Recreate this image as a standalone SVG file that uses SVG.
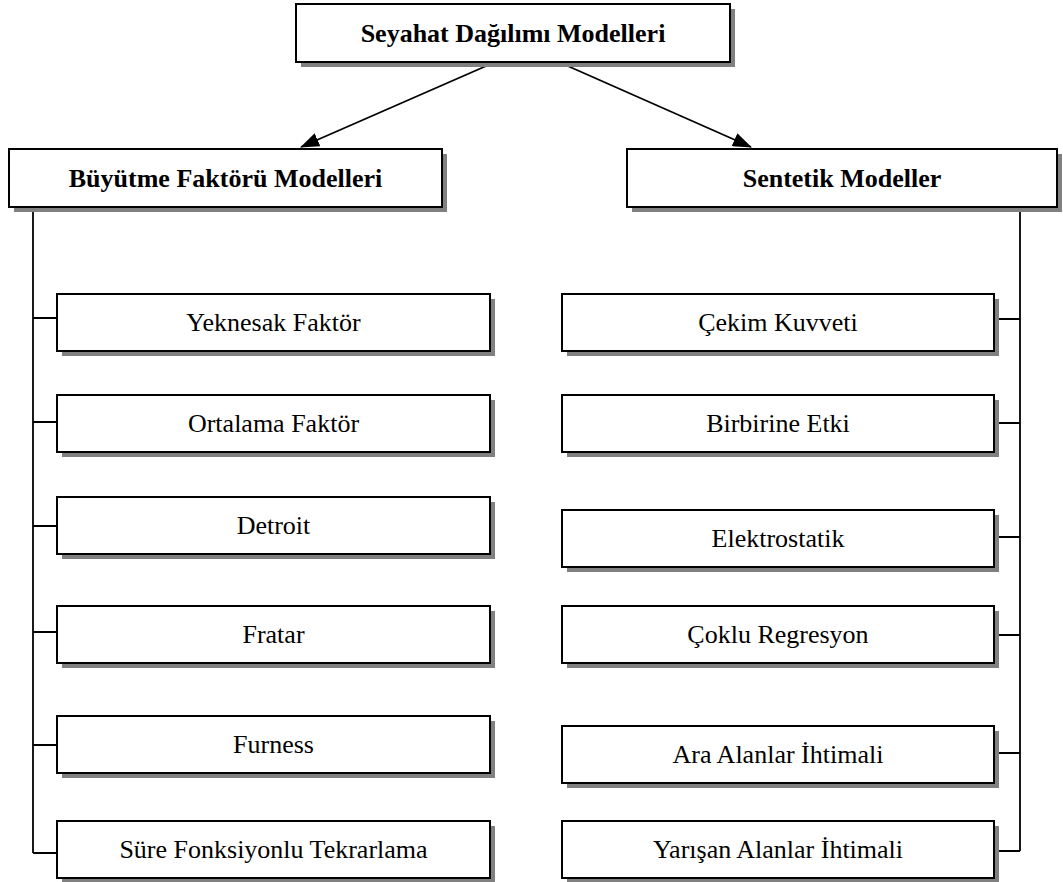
<svg xmlns="http://www.w3.org/2000/svg" width="1063" height="882" viewBox="0 0 1063 882">
<style>
.shadow{fill:#808080;stroke:none}
.box{fill:#fff;stroke:#000;stroke-width:2}
.t{font-family:"Liberation Serif","Times New Roman",serif;font-size:26px;fill:#000;text-anchor:middle}
.b{font-weight:bold}
.conn{fill:none;stroke:#000;stroke-width:1.8}
</style>
<defs>
<marker id="arr" markerWidth="19" markerHeight="14" refX="18" refY="7" orient="auto" markerUnits="userSpaceOnUse">
<path d="M0,0 L19,7 L0,14 Z" fill="#000"/>
</marker>
</defs>
<rect width="1063" height="882" fill="#fff"/>
<g id="connectors">
<line class="conn" x1="493" y1="63" x2="301" y2="147" marker-end="url(#arr)"/>
<line class="conn" x1="561" y1="63" x2="751" y2="147" marker-end="url(#arr)"/>
<path class="conn" d="M33,206 V853"/>
<path class="conn" d="M33,318 H57 M33,422 H57 M33,526 H57 M33,632 H57 M33,745 H57 M33,853 H57"/>
<path class="conn" d="M1020,203 V851"/>
<path class="conn" d="M994,319 H1020 M994,423 H1020 M994,537 H1020 M994,635 H1020 M994,753 H1020 M994,851 H1020"/>
</g>
<g id="root">
<rect class="shadow" x="301" y="9" width="434" height="58"/>
<rect class="box" x="296" y="4" width="434" height="58"/>
<text class="t b" x="513" y="42">Seyahat Dağılımı Modelleri</text>
</g>
<g id="buyutme">
<rect class="shadow" x="14" y="154" width="433" height="58"/>
<rect class="box" x="9" y="149" width="433" height="58"/>
<text class="t b" x="225.5" y="187">Büyütme Faktörü Modelleri</text>
</g>
<g id="sentetik">
<rect class="shadow" x="632" y="154" width="430" height="58"/>
<rect class="box" x="627" y="149" width="430" height="58"/>
<text class="t b" x="842" y="187">Sentetik Modeller</text>
</g>
<g id="yeknesak">
<rect class="shadow" x="62" y="299" width="433" height="57"/>
<rect class="box" x="57" y="294" width="433" height="57"/>
<text class="t" x="273.5" y="331">Yeknesak Faktör</text>
</g>
<g id="ortalama">
<rect class="shadow" x="62" y="400" width="433" height="57"/>
<rect class="box" x="57" y="395" width="433" height="57"/>
<text class="t" x="273.5" y="432">Ortalama Faktör</text>
</g>
<g id="detroit">
<rect class="shadow" x="62" y="502" width="433" height="57"/>
<rect class="box" x="57" y="497" width="433" height="57"/>
<text class="t" x="273.5" y="534">Detroit</text>
</g>
<g id="fratar">
<rect class="shadow" x="62" y="611" width="433" height="57"/>
<rect class="box" x="57" y="606" width="433" height="57"/>
<text class="t" x="273.5" y="643">Fratar</text>
</g>
<g id="furness">
<rect class="shadow" x="62" y="721" width="433" height="57"/>
<rect class="box" x="57" y="716" width="433" height="57"/>
<text class="t" x="273.5" y="753">Furness</text>
</g>
<g id="sure">
<rect class="shadow" x="62" y="826" width="433" height="57"/>
<rect class="box" x="57" y="821" width="433" height="57"/>
<text class="t" x="273.5" y="858">Süre Fonksiyonlu Tekrarlama</text>
</g>
<g id="cekim">
<rect class="shadow" x="567" y="299" width="432" height="57"/>
<rect class="box" x="562" y="294" width="432" height="57"/>
<text class="t" x="778" y="331">Çekim Kuvveti</text>
</g>
<g id="birbirine">
<rect class="shadow" x="567" y="400" width="432" height="57"/>
<rect class="box" x="562" y="395" width="432" height="57"/>
<text class="t" x="778" y="432">Birbirine Etki</text>
</g>
<g id="elektrostatik">
<rect class="shadow" x="567" y="515" width="432" height="57"/>
<rect class="box" x="562" y="510" width="432" height="57"/>
<text class="t" x="778" y="547">Elektrostatik</text>
</g>
<g id="coklu">
<rect class="shadow" x="567" y="611" width="432" height="57"/>
<rect class="box" x="562" y="606" width="432" height="57"/>
<text class="t" x="778" y="643">Çoklu Regresyon</text>
</g>
<g id="ara">
<rect class="shadow" x="567" y="731" width="432" height="57"/>
<rect class="box" x="562" y="726" width="432" height="57"/>
<text class="t" x="778" y="763">Ara Alanlar İhtimali</text>
</g>
<g id="yarisan">
<rect class="shadow" x="567" y="826" width="432" height="57"/>
<rect class="box" x="562" y="821" width="432" height="57"/>
<text class="t" x="778" y="858">Yarışan Alanlar İhtimali</text>
</g>
</svg>
